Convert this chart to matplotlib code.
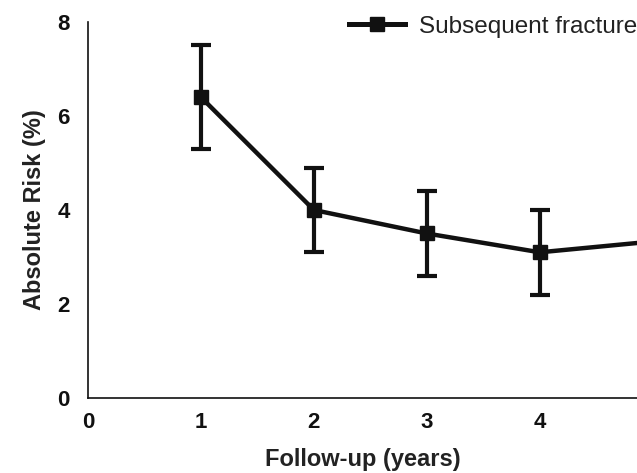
import matplotlib
matplotlib.use('Agg')
import matplotlib.pyplot as plt

plt.rcParams['font.family'] = ['Liberation Sans', 'DejaVu Sans']

# data
years = [1, 2, 3, 4, 5]
risk = [6.4, 4.0, 3.5, 3.1, 3.33]
err_low = [1.1, 0.9, 0.9, 0.9, 0.9]
err_high = [1.1, 0.9, 0.9, 0.9, 0.9]
x_ticks = [0, 1, 2, 3, 4]
y_ticks = [0, 2, 4, 6, 8]

fig = plt.figure(figsize=(6.37, 4.73), dpi=100)
ax = fig.add_axes([88 / 637, 75 / 473, 1 - 88 / 637, (398 - 22) / 473])

ax.errorbar(years, risk, yerr=[err_low, err_high], color='#111111',
            linewidth=3.2, marker='s', markersize=10, capsize=7,
            capthick=3, elinewidth=3)
# legend handle without the error bars
ax.plot([], [], color='#111111', linewidth=3.6, marker='s', markersize=10,
        label='Subsequent fracture')

ax.set_xlim(0, 4.86)
ax.set_ylim(0, 8)
ax.set_xticks(x_ticks)
ax.set_yticks(y_ticks)
ax.tick_params(axis='x', length=0, labelsize=16, pad=10)
ax.tick_params(axis='y', length=0, labelsize=16, pad=13)
for lbl in ax.get_xticklabels() + ax.get_yticklabels():
    lbl.set_fontweight('bold')
    lbl.set_color('#111111')

ax.spines['top'].set_visible(False)
ax.spines['right'].set_visible(False)
for s in ['left', 'bottom']:
    ax.spines[s].set_linewidth(1.2)
    ax.spines[s].set_color('#111111')

ax.set_xlabel('Follow-up (years)', fontsize=17, fontweight='bold',
              labelpad=11, color='#222222')
ax.set_ylabel('Absolute Risk (%)', fontsize=17, fontweight='bold',
              labelpad=8, color='#222222')

leg = ax.legend(loc='center right', bbox_to_anchor=(1.0, 0.987), frameon=False,
                fontsize=17.5, handlelength=2.3, handletextpad=0.55,
                borderaxespad=0, borderpad=0)
for t in leg.get_texts():
    t.set_color('#222222')

fig.savefig('out.png', dpi=100)
